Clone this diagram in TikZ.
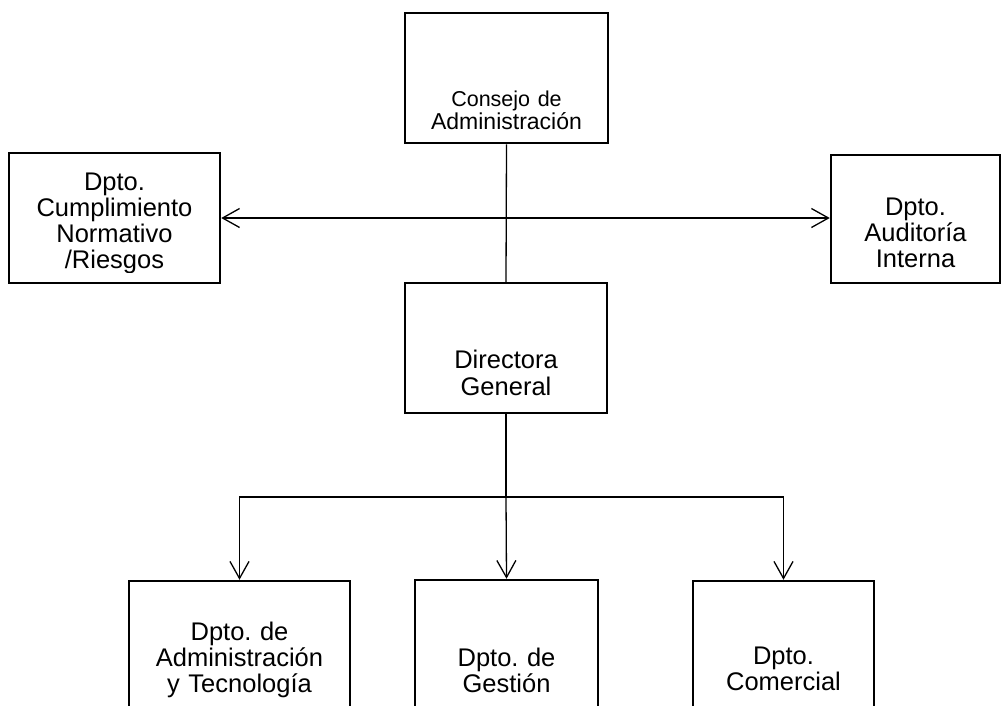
\documentclass[tikz,border=0pt]{standalone}
\usepackage{fontspec}
\setmainfont{Liberation Sans}
\usetikzlibrary{arrows.meta}
\frenchspacing
\begin{document}
\begin{tikzpicture}[x=1pt,y=-1pt,
  box/.style={draw=black, line width=2.5pt, inner sep=0pt, fill=white},
  lbl/.style={text width=260pt, align=center, anchor=base, inner sep=0pt,
              font=\fontsize{25.5}{26}\selectfont},
  conn/.style={line width=1.3pt, line join=miter},
  arr/.style={conn, -{Straight Barb[length=17pt,width=19pt,line width=1.3pt]}}]
\useasboundingbox (0,0) rectangle (1001,705);
\clip (0,0) rectangle (1001,705);
% boxes
\node[box, minimum width=203pt, minimum height=130pt] (cons) at (506.5,78) {};
\node[box, minimum width=211pt, minimum height=130pt] (cump) at (114.5,218) {};
\node[box, minimum width=169pt, minimum height=128pt] (aud)  at (915.5,219) {};
\node[box, minimum width=202pt, minimum height=130pt] (dir)  at (506,348) {};
\node[box, minimum width=221pt, minimum height=170pt] (adm)  at (239.5,666) {};
\node[box, minimum width=183pt, minimum height=170pt] (ges)  at (506.5,665) {};
\node[box, minimum width=181pt, minimum height=170pt] (com)  at (783.5,666) {};
% labels
\node[lbl, font=\fontsize{23}{23}\selectfont] (tcons) at (506.5,106)
  {{\fontsize{21.5}{23}\selectfont Consejo de}\\Administración};
\begin{scope}
  \clip (10,150) rectangle (219,272);
  \node[lbl] (tcump) at (114.5,190) {Dpto.\\Cumplimiento\\Normativo\\/Riesgos};
\end{scope}
\node[lbl] (taud) at (915.5,215) {Dpto.\\Auditoría\\Interna};
\node[lbl] (tdir) at (506,368) {Directora\\[1pt]General};
\node[lbl] (tadm) at (239.5,640) {Dpto. de\\Administración\\y Tecnología};
\node[lbl] (tges) at (506.5,666) {Dpto. de\\Gestión};
\node[lbl] (tcom) at (783.5,664) {Dpto.\\Comercial};
% connectors
\coordinate (hub) at (cons.south |- 0,218);
\coordinate (split) at (dir.south |- 0,497);
\draw[conn] (cons.south) -- (dir.north);
\draw[arr] (hub) -- (cump.east |- hub);
\draw[arr] (hub) -- (aud.west |- hub);
\draw[conn] (dir.south) -- (split);
\draw[arr] (split) -| (adm.north);
\draw[arr] (split) -- (ges.north);
\draw[arr] (split) -| (com.north);
\end{tikzpicture}
\end{document}
